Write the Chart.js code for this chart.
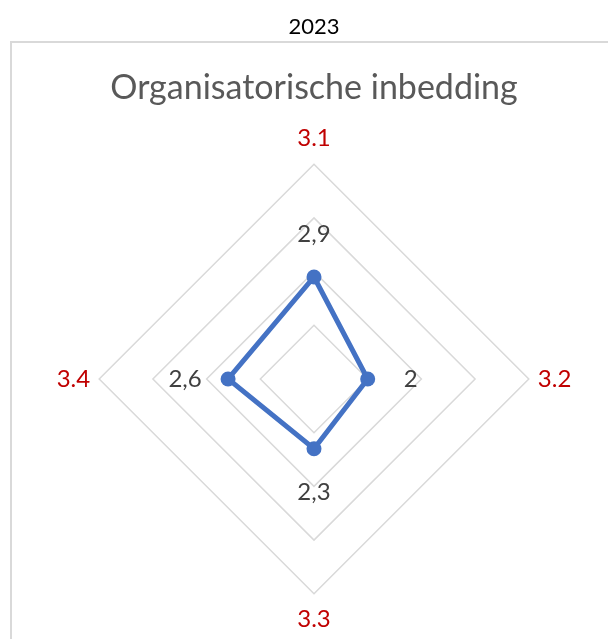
<!DOCTYPE html>
<html>
<head>
<meta charset="utf-8">
<script src="https://cdn.jsdelivr.net/npm/chart.js@4/dist/chart.umd.min.js"></script>
<style>
  html, body { margin: 0; padding: 0; background: #fff; }
  #wrap { position: relative; width: 608px; height: 639px; }
</style>
</head>
<body>
<div id="wrap"><canvas id="radar"></canvas></div>
<script>
// Chart data
const yearTitle = '2023';
const chartTitle = 'Organisatorische inbedding';
const categories = ['3.1', '3.2', '3.3', '3.4'];
const scores = [2.9, 2, 2.3, 2.6];
const scaleMin = 1;
const scaleMax = 5;

const FONT = 'Lato, Calibri, "Noto Sans", sans-serif';

// light grey frame around the chart, like the Excel chart area
const framePlugin = {
    id: 'frame',
    beforeDraw(chart) {
        const ctx = chart.ctx;
        ctx.save();
        ctx.strokeStyle = '#d9d9d9';
        ctx.lineWidth = 2;
        ctx.strokeRect(11, 42, 700, 700);
        ctx.restore();
    }
};

// value labels outside each point (Dutch decimal comma)
const valueLabels = {
    id: 'valueLabels',
    afterDatasetsDraw(chart) {
        const ctx = chart.ctx;
        const scale = chart.scales.r;
        const data = chart.data.datasets[0].data;
        ctx.save();
        ctx.font = '24px ' + FONT;
        ctx.fillStyle = '#404040';
        ctx.textAlign = 'center';
        ctx.textBaseline = 'middle';
        data.forEach((v, i) => {
            const dist = scale.getDistanceFromCenterForValue(v) + 43;
            const pos = scale.getPointPosition(i, dist);
            ctx.fillText(v.toLocaleString('nl-NL'), pos.x, pos.y);
        });
        ctx.restore();
    }
};

new Chart(document.getElementById('radar'), {
    type: 'radar',
    data: {
        labels: categories,
        datasets: [{
            data: scores,
            borderColor: '#4472c4',
            backgroundColor: '#4472c4',
            borderWidth: 5,
            pointRadius: 7.5,
            pointBorderWidth: 0,
            pointBackgroundColor: '#4472c4',
            fill: false,
            tension: 0
        }]
    },
    options: {
        responsive: true,
        maintainAspectRatio: false,
        animation: false,
        layout: {
            padding: { left: 20, right: 0, top: 0, bottom: 5 }
        },
        plugins: {
            legend: { display: false },
            tooltip: { enabled: false },
            title: {
                display: true,
                text: yearTitle,
                color: '#000000',
                font: { family: FONT, size: 22, weight: 'normal' },
                padding: { top: 13.8, bottom: 0 }
            },
            subtitle: {
                display: true,
                text: chartTitle,
                color: '#595959',
                font: { family: FONT, size: 34, weight: 'normal' },
                padding: { top: 27.4, bottom: 15.6 }
            }
        },
        scales: {
            r: {
                min: scaleMin,
                max: scaleMax,
                ticks: { display: false, stepSize: 1 },
                angleLines: { display: false },
                grid: { color: '#d9d9d9', lineWidth: 1.5 },
                pointLabels: {
                    color: '#c00000',
                    font: { family: FONT, size: 24 },
                    padding: ctx => (ctx.index % 2 === 0 ? 11.4 : 9)
                }
            }
        }
    },
    plugins: [framePlugin, valueLabels]
});
</script>
</body>
</html>
